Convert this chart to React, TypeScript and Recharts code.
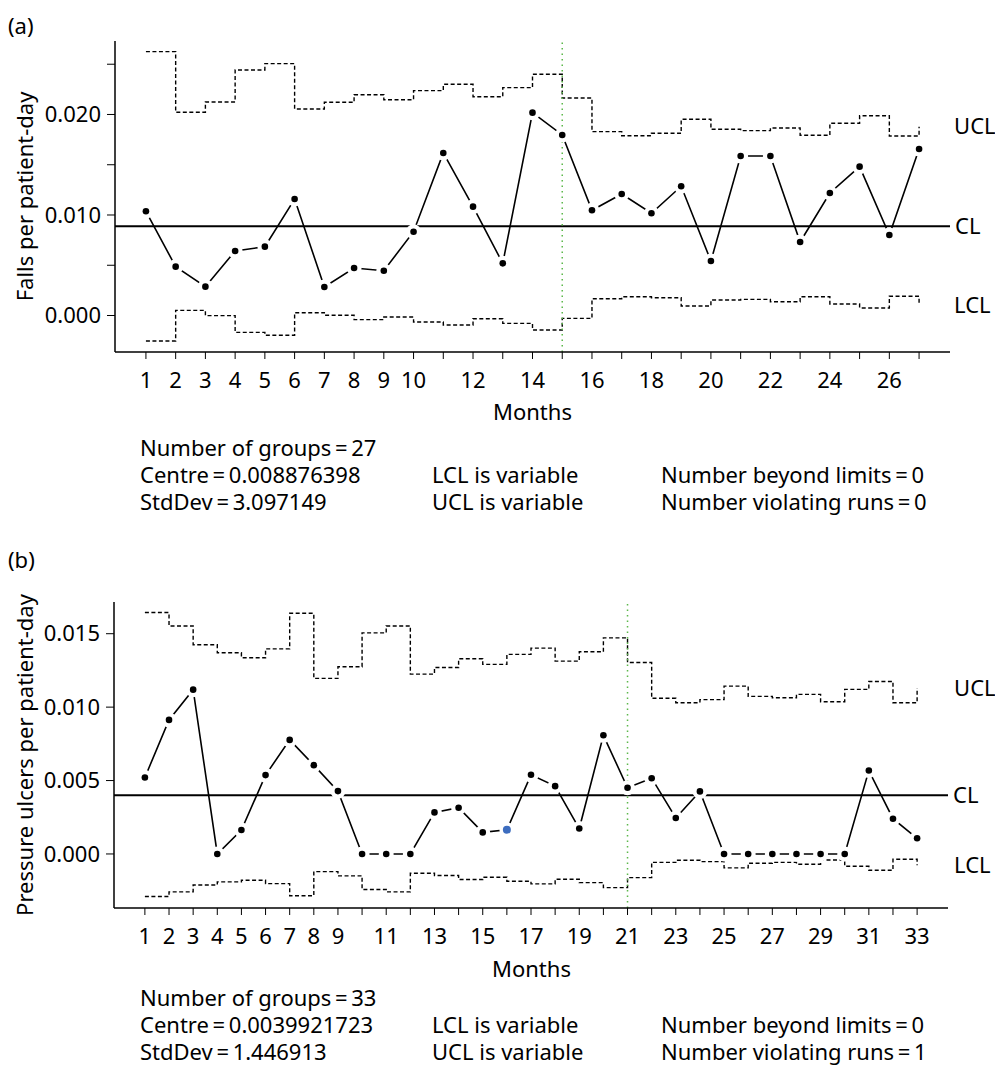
import React from 'react';
import { LineChart, Line, XAxis, YAxis, ReferenceLine, LabelList } from 'recharts';

// ---------- (a) Falls ----------
const fallsMonths = [1, 2, 3, 4, 5, 6, 7, 8, 9, 10, 11, 12, 13, 14, 15, 16, 17, 18, 19, 20, 21, 22, 23, 24, 25, 26, 27];
const fallsRate = [0.01037, 0.00486, 0.00287, 0.00642, 0.00685, 0.01159, 0.00284, 0.00473, 0.00446, 0.00834, 0.01617, 0.01083, 0.00519, 0.02018, 0.01796, 0.01047, 0.01209, 0.01017, 0.01286, 0.00542, 0.01587, 0.01587, 0.00731, 0.01219, 0.01481, 0.00801, 0.01657];
const fallsUcl = [0.02625, 0.02022, 0.02124, 0.02443, 0.02506, 0.02055, 0.02121, 0.02197, 0.02147, 0.02237, 0.023, 0.02177, 0.02267, 0.024, 0.02164, 0.01829, 0.01789, 0.01813, 0.01952, 0.01853, 0.01839, 0.01866, 0.01793, 0.01912, 0.01988, 0.01786, 0.01879];
const fallsLcl = [-0.00254, 0.00051, -0.00001, -0.00168, -0.00197, 0.00028, 0.00002, -0.00041, -0.00015, -0.00065, -0.00095, -0.00032, -0.00078, -0.00144, -0.00028, 0.00167, 0.00187, 0.00177, 0.00095, 0.00154, 0.00161, 0.00137, 0.00187, 0.00114, 0.00075, 0.00191, 0.00101];
const fallsCentre = 0.008876398;
const fallsYTicks = [0, 0.005, 0.01, 0.015, 0.02, 0.025];
const fallsYLabels = [0, 0.01, 0.02];
const fallsXLabels = [1, 2, 3, 4, 5, 6, 7, 8, 9, 10, 12, 14, 16, 18, 20, 22, 24, 26];
const fallsChange = 15;
const fallsFlagged: number[] = [];
const fallsStats = [
  ['Number of groups\u2009=\u200927', '', ''],
  ['Centre\u2009=\u20090.008876398', 'LCL is variable', 'Number beyond limits\u2009=\u20090'],
  ['StdDev\u2009=\u20093.097149', 'UCL is variable', 'Number violating runs\u2009=\u20090'],
];

// ---------- (b) Pressure ulcers ----------
const pressMonths = [1, 2, 3, 4, 5, 6, 7, 8, 9, 10, 11, 12, 13, 14, 15, 16, 17, 18, 19, 20, 21, 22, 23, 24, 25, 26, 27, 28, 29, 30, 31, 32, 33];
const pressRate = [0.00521, 0.00913, 0.01119, 0.0, 0.00163, 0.00537, 0.00777, 0.00605, 0.00428, 0.0, 0.0, 0.0, 0.00283, 0.00315, 0.00147, 0.00165, 0.00539, 0.00462, 0.00173, 0.00808, 0.00451, 0.00516, 0.00245, 0.00426, 0.0, 0.0, 0.0, 0.0, 0.0, 0.0, 0.00568, 0.0024, 0.00107];
const pressUcl = [0.01644, 0.01553, 0.01425, 0.0137, 0.01336, 0.01397, 0.01639, 0.01196, 0.01275, 0.01506, 0.01553, 0.01225, 0.0127, 0.01329, 0.01291, 0.01359, 0.01402, 0.01313, 0.01377, 0.01472, 0.01304, 0.0106, 0.0103, 0.01051, 0.01143, 0.01073, 0.01064, 0.01087, 0.01037, 0.01121, 0.01175, 0.0103, 0.0113];
const pressLcl = [-0.0029, -0.00258, -0.00211, -0.0019, -0.00179, -0.00202, -0.00285, -0.0012, -0.00149, -0.00242, -0.00258, -0.00131, -0.00147, -0.00174, -0.00159, -0.00186, -0.00204, -0.00172, -0.00195, -0.00229, -0.00161, -0.00057, -0.00043, -0.00052, -0.00095, -0.00063, -0.00057, -0.0007, -0.00041, -0.00084, -0.00111, -0.00036, -0.00077];
const pressCentre = 0.0039921723;
const pressYTicks = [0, 0.005, 0.01, 0.015];
const pressYLabels = [0, 0.005, 0.01, 0.015];
const pressXLabels = [1, 2, 3, 4, 5, 6, 7, 8, 9, 11, 13, 15, 17, 19, 21, 23, 25, 27, 29, 31, 33];
const pressChange = 21;
const pressFlagged = [16];
const pressStats = [
  ['Number of groups\u2009=\u200933', '', ''],
  ['Centre\u2009=\u20090.0039921723', 'LCL is variable', 'Number beyond limits\u2009=\u20090'],
  ['StdDev\u2009=\u20091.446913', 'UCL is variable', 'Number violating runs\u2009=\u20091'],
];

const FONT = '"Noto Sans", "Open Sans", sans-serif';
const FS = 22;

type ChartProps = {
  months: number[];
  rate: number[];
  ucl: number[];
  lcl: number[];
  centre: number;
  yTicks: number[];
  yLabels: number[];
  xLabels: number[];
  change: number;
  flagged: number[];
  xDomain: [number, number];
  yDomain: [number, number];
  yTitle: string;
  marginTop: number;
  marginRight: number;
  yAxisWidth: number;
  plotHeight: number;
  labelOffset: number;
};

function ControlChart(p: ChartProps) {
  const data = p.months.map((m, i) => ({ month: m, rate: p.rate[i], ucl: p.ucl[i], lcl: p.lcl[i] }));
  const last = data.length - 1;
  const xAxisH = 50;
  const height = p.marginTop + p.plotHeight + xAxisH;

  const xTick = (props: any) => {
    const { x, y, payload } = props;
    if (!p.xLabels.includes(payload.value)) return <g />;
    return (
      <text x={x} y={y} dy="0.71em" textAnchor="middle" fontSize={FS} fill="#000" fontFamily={FONT}>
        {payload.value}
      </text>
    );
  };
  const yTick = (props: any) => {
    const { x, y, payload } = props;
    if (!p.yLabels.some((v) => Math.abs(v - payload.value) < 1e-9)) return <g />;
    return (
      <text x={x} y={y} dy="0.35em" textAnchor="end" fontSize={FS} fill="#000" fontFamily={FONT}>
        {payload.value.toFixed(3)}
      </text>
    );
  };
  const dot = (props: any) => {
    const { cx, cy, index, payload } = props;
    const isFlag = p.flagged.includes(payload.month);
    return (
      <g key={`dot-${index}`}>
        <circle cx={cx} cy={cy} r={7.5} fill="#fff" />
        <circle cx={cx} cy={cy} r={isFlag ? 4 : 3.3} fill={isFlag ? '#3d6dbf' : '#000'} />
      </g>
    );
  };
  const endLabel = (text: string) => (props: any) => {
    const { x, y, index } = props;
    if (index !== last) return null;
    return (
      <text x={x + p.labelOffset} y={y} dy="0.35em" textAnchor="start" fontSize={FS} fill="#000" fontFamily={FONT}>
        {text}
      </text>
    );
  };

  return (
    <LineChart
      width={995}
      height={height}
      data={data}
      margin={{ top: p.marginTop, right: p.marginRight, bottom: 0, left: 0 }}
    >
      <XAxis
        dataKey="month"
        type="number"
        domain={p.xDomain}
        ticks={p.months}
        interval={0}
        allowDataOverflow
        height={xAxisH}
        tickSize={7}
        tickMargin={13}
        tick={xTick}
        stroke="#000"
        axisLine={{ stroke: '#000', strokeWidth: 1.5 }}
        tickLine={{ stroke: '#000', strokeWidth: 1 }}
      />
      <YAxis
        type="number"
        domain={p.yDomain}
        ticks={p.yTicks}
        interval={0}
        allowDataOverflow
        width={p.yAxisWidth}
        tickSize={8}
        tickMargin={6}
        tick={yTick}
        stroke="#000"
        axisLine={{ stroke: '#000', strokeWidth: 1.5 }}
        tickLine={{ stroke: '#000', strokeWidth: 1 }}
        label={{
          value: p.yTitle,
          angle: -90,
          position: 'insideLeft',
          offset: 25,
          style: { textAnchor: 'middle', fontSize: FS, fill: '#000', fontFamily: FONT },
        }}
      />
      <Line
        dataKey="ucl"
        type="stepAfter"
        stroke="#000"
        strokeWidth={1.4}
        strokeDasharray="4 2.5"
        dot={false}
        activeDot={false}
        isAnimationActive={false}
      >
        <LabelList dataKey="ucl" content={endLabel('UCL')} />
      </Line>
      <Line
        dataKey="lcl"
        type="stepAfter"
        stroke="#000"
        strokeWidth={1.4}
        strokeDasharray="4 2.5"
        dot={false}
        activeDot={false}
        isAnimationActive={false}
      >
        <LabelList dataKey="lcl" content={endLabel('LCL')} />
      </Line>
      <Line
        dataKey="rate"
        type="linear"
        stroke="#000"
        strokeWidth={1.6}
        dot={dot}
        activeDot={false}
        isAnimationActive={false}
      />
      <ReferenceLine
        y={p.centre}
        stroke="#000"
        strokeWidth={2}
        label={{ value: 'CL', position: 'right', offset: 5, fontSize: FS, fill: '#000', fontFamily: FONT }}
      />
      <ReferenceLine x={p.change} stroke="#5cb84a" strokeWidth={1.5} strokeDasharray="1.5 4" />
    </LineChart>
  );
}

function Stats({ rows, top }: { rows: string[][]; top: number }) {
  const cols = [140, 432, 661];
  return (
    <>
      {rows.map((r, ri) =>
        r.map((t, ci) =>
          t ? (
            <div
              key={`${ri}-${ci}`}
              style={{
                position: 'absolute',
                left: cols[ci],
                top: top + ri * 27,
                fontSize: FS,
                lineHeight: '26px',
                whiteSpace: 'nowrap',
              }}
            >
              {t}
            </div>
          ) : null
        )
      )}
    </>
  );
}

export default function App() {
  return (
    <div
      style={{
        position: 'absolute',
        left: 0,
        top: 0,
        width: 995,
        height: 1067,
        background: '#fff',
        fontFamily: FONT,
        color: '#000',
        overflow: 'hidden',
      }}
    >
      <div style={{ position: 'absolute', left: 0, top: 0 }}>
        <ControlChart
          months={fallsMonths}
          rate={fallsRate}
          ucl={fallsUcl}
          lcl={fallsLcl}
          centre={fallsCentre}
          yTicks={fallsYTicks}
          yLabels={fallsYLabels}
          xLabels={fallsXLabels}
          change={fallsChange}
          flagged={fallsFlagged}
          xDomain={[-0.04, 28.04]}
          yDomain={[-0.00363, 0.02731]}
          yTitle="Falls per patient-day"
          marginTop={41}
          marginRight={45}
          yAxisWidth={115}
          plotHeight={311}
          labelOffset={35}
        />
      </div>
      <div style={{ position: 'absolute', left: 8, top: 11, fontSize: FS, lineHeight: '28px' }}>(a)</div>
      <div style={{ position: 'absolute', left: 493, top: 397, fontSize: FS, lineHeight: '28px' }}>Months</div>
      <Stats rows={fallsStats} top={434} />

      <div style={{ position: 'absolute', left: 0, top: 560 }}>
        <ControlChart
          months={pressMonths}
          rate={pressRate}
          ucl={pressUcl}
          lcl={pressLcl}
          centre={pressCentre}
          yTicks={pressYTicks}
          yLabels={pressYLabels}
          xLabels={pressXLabels}
          change={pressChange}
          flagged={pressFlagged}
          xDomain={[-0.28, 34.28]}
          yDomain={[-0.00368, 0.01716]}
          yTitle="Pressure ulcers per patient-day"
          marginTop={42}
          marginRight={47}
          yAxisWidth={114}
          plotHeight={306}
          labelOffset={37}
        />
      </div>
      <div style={{ position: 'absolute', left: 8, top: 545, fontSize: FS, lineHeight: '28px' }}>(b)</div>
      <div style={{ position: 'absolute', left: 492, top: 954, fontSize: FS, lineHeight: '28px' }}>Months</div>
      <Stats rows={pressStats} top={984} />
    </div>
  );
}
